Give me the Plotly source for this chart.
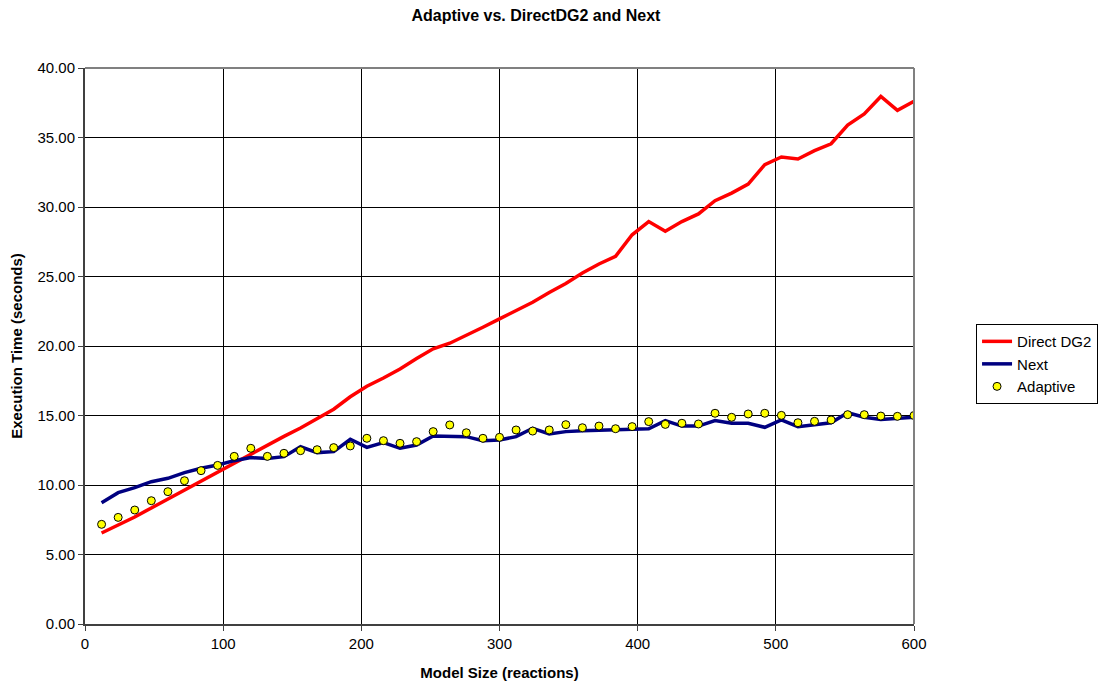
"""Adaptive vs. DirectDG2 and Next execution time chart."""
import plotly.graph_objects as go

MODEL_SIZE = list(range(12, 601, 12))

DIRECT_DG2 = [
  6.55, 7.1, 7.7, 8.35, 9.0, 9.65, 10.3, 10.95, 11.6, 12.25,
  12.85, 13.5, 14.1, 14.8, 15.45, 16.35, 17.1, 17.7, 18.35, 19.1,
  19.8, 20.2, 20.75, 21.35, 21.95, 22.55, 23.15, 23.85, 24.5, 25.25,
  25.9, 26.45, 28.0, 28.95, 28.25, 28.95, 29.5, 30.45, 31.0, 31.65,
  33.05, 33.6, 33.45, 34.05, 34.55, 35.9, 36.7, 37.95, 36.95, 37.6,
]

NEXT = [
  8.73, 9.45, 9.81, 10.24, 10.48, 10.89, 11.2, 11.44, 11.75, 11.97,
  11.9, 12.04, 12.75, 12.33, 12.4, 13.29, 12.71, 13.05, 12.64, 12.88,
  13.53, 13.53, 13.48, 13.19, 13.24, 13.48, 14.08, 13.67, 13.84, 13.91,
  13.96, 13.96, 14.0, 14.05, 14.63, 14.24, 14.24, 14.63, 14.44, 14.44,
  14.15, 14.68, 14.2, 14.36, 14.48, 15.2, 14.87, 14.72, 14.8, 14.87,
]

ADAPTIVE = [
  7.17, 7.67, 8.2, 8.87, 9.52, 10.31, 11.03, 11.41, 12.06, 12.64,
  12.06, 12.28, 12.47, 12.54, 12.69, 12.81, 13.36, 13.19, 13.0, 13.12,
  13.84, 14.32, 13.76, 13.36, 13.43, 13.96, 13.88, 13.96, 14.34, 14.12,
  14.24, 14.05, 14.2, 14.56, 14.36, 14.44, 14.39, 15.16, 14.87, 15.11,
  15.16, 15.01, 14.48, 14.58, 14.68, 15.06, 15.06, 14.96, 14.94, 15.0,
]

FONT = "Liberation Sans, Arial, sans-serif"

fig = go.Figure()
fig.add_trace(go.Scatter(
  x=MODEL_SIZE, y=DIRECT_DG2, mode="lines", name="Direct DG2",
  line=dict(color="#ff0000", width=3.5),
))
fig.add_trace(go.Scatter(
  x=MODEL_SIZE, y=NEXT, mode="lines", name="Next",
  line=dict(color="#000080", width=3.5),
))
fig.add_trace(go.Scatter(
  x=MODEL_SIZE, y=ADAPTIVE, mode="markers", name="Adaptive",
  marker=dict(color="#ffff00", size=8, line=dict(color="#000000", width=1)),
))

fig.update_layout(
  width=1106, height=687,
  paper_bgcolor="white", plot_bgcolor="white",
  font=dict(family=FONT, size=15, color="#000000"),
  margin=dict(l=85, r=192, t=68, b=63, autoexpand=False),
  title=dict(
    text="<b>Adaptive vs. DirectDG2 and Next</b>",
    x=0.4846, xanchor="center", y=0.978, yanchor="middle",
    font=dict(family=FONT, size=16),
  ),
  legend=dict(
    xref="container", yref="container",
    x=0.8825, xanchor="left", y=0.47, yanchor="middle",
    bordercolor="#000000", borderwidth=1, bgcolor="white",
    font=dict(family=FONT, size=15),
    tracegroupgap=0, itemwidth=30,
  ),
  showlegend=True,
)
fig.update_xaxes(
  range=[0, 600], tickvals=[0, 100, 200, 300, 400, 500, 600],
  showgrid=True, gridcolor="#000000", gridwidth=1,
  showline=True, linecolor="#404040", linewidth=2, mirror=False,
  ticks="outside", ticklen=5, tickcolor="#404040",
  zeroline=False, automargin=False,
  title=dict(text="<b>Model Size (reactions)</b>", font=dict(family=FONT, size=15), standoff=16),
)
fig.update_yaxes(
  range=[0, 40], tickvals=[0, 5, 10, 15, 20, 25, 30, 35, 40],
  tickformat=".2f",
  showgrid=True, gridcolor="#000000", gridwidth=1,
  showline=True, linecolor="#404040", linewidth=2, mirror=False,
  ticks="outside", ticklen=5, tickcolor="#404040",
  zeroline=False, automargin=False,
  title=dict(text="<b>Execution Time (seconds)</b>", font=dict(family=FONT, size=15), standoff=11),
)
# gray frame on the top and right edges
fig.add_shape(type="line", xref="paper", yref="paper", x0=0, x1=1, y0=1, y1=1,
              line=dict(color="#808080", width=2))
fig.add_shape(type="line", xref="paper", yref="paper", x0=1, x1=1, y0=0, y1=1,
              line=dict(color="#808080", width=2))

# drop the default page margin so the figure sits at the window origin
fig.write_html(
  "out.html",
  config={"displayModeBar": False},
  post_script="document.body.style.margin = '0';",
)
